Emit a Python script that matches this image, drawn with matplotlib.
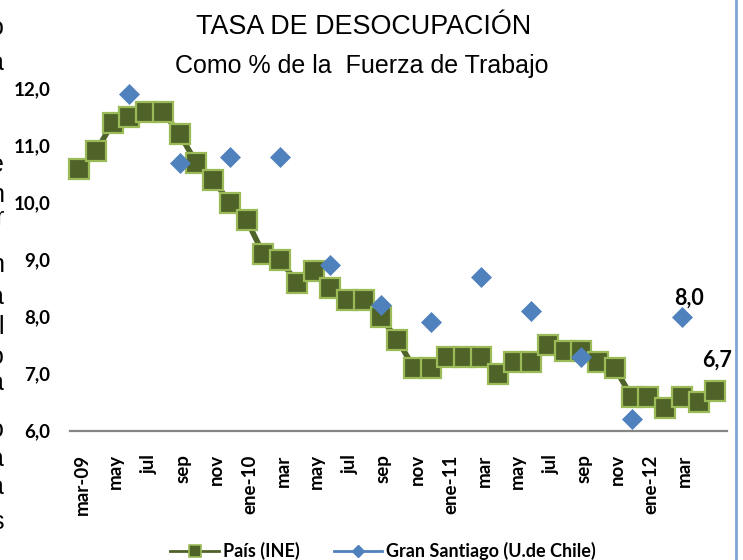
import matplotlib
matplotlib.use('Agg')
import matplotlib.pyplot as plt
import matplotlib.transforms as mtransforms
from matplotlib import font_manager
from matplotlib.lines import Line2D
import numpy as np

# ---------------- data ----------------
tick_labels = ['mar-09', 'may', 'jul', 'sep', 'nov', 'ene-10', 'mar', 'may', 'jul', 'sep',
               'nov', 'ene-11', 'mar', 'may', 'jul', 'sep', 'nov', 'ene-12', 'mar']
pais = [10.6, 10.9, 11.4, 11.5, 11.6, 11.6, 11.2, 10.7, 10.4, 10.0,
        9.7, 9.1, 9.0, 8.6, 8.8, 8.5, 8.3, 8.3, 8.0, 7.6,
        7.1, 7.1, 7.3, 7.3, 7.3, 7.0, 7.2, 7.2, 7.5, 7.4,
        7.4, 7.2, 7.1, 6.6, 6.6, 6.4, 6.6, 6.5, 6.7]
santiago_idx = [3, 6, 9, 12, 15, 18, 21, 24, 27, 30, 33, 36]
santiago = [11.9, 10.7, 10.8, 10.8, 8.9, 8.2, 7.9, 8.7, 8.1, 7.3, 6.2, 8.0]
yticks = [6.0, 7.0, 8.0, 9.0, 10.0, 11.0, 12.0]
title = 'TASA DE DESOCUPACIÓN'
subtitle = 'Como % de la  Fuerza de Trabajo'
series_names = ['País (INE)', 'Gran Santiago (U.de Chile)']
edge_letters = ['o', 'a', 'e', 'n', 'r', 'n', 'a', 'l', 'o', 'a', 'o', 'a', 'a', 's']
edge_letter_y = [28, 63, 165, 195, 218, 265, 297, 327, 357, 383, 430, 459, 487, 522]

# ---------------- style ----------------
OLIVE = '#4F6228'
LIGHT_GREEN = '#9BBB59'
BLUE = '#4F81BD'
BOLD_FONT = ['Lato', 'DejaVu Sans']

installed = {f.name for f in font_manager.fontManager.ttflist}
if 'Liberation Sans Narrow' in installed:
    title_family, title_size = ['Liberation Sans Narrow', 'Liberation Sans'], 22
else:
    title_family, title_size = ['Liberation Sans', 'DejaVu Sans'], 19.4

W, H = 743, 560
fig = plt.figure(figsize=(W / 100, H / 100), dpi=100)
ax = fig.add_axes([70 / W, (H - 430.7) / H, (727 - 70) / W, (430.7 - 88.7) / H])

x = np.arange(len(pais))
ax.plot(x, pais, color=OLIVE, lw=4, marker='s', ms=14.8, mfc=OLIVE,
        mec=LIGHT_GREEN, mew=1.6, clip_on=False, zorder=3)

sant = np.full(len(pais), np.nan)
sant[santiago_idx] = santiago
ax.plot(x, sant, linestyle='none', marker='D', ms=10, mfc=BLUE, mec=BLUE,
        mew=0.5, clip_on=False, zorder=4)

ax.set_xlim(-0.55, 38.7)
ax.set_ylim(6.0, 12.0)
ax.set_yticks(yticks)
ax.set_yticklabels([f'{v:.1f}'.replace('.', ',') for v in yticks])
ax.set_xticks(x[0:2 * len(tick_labels):2])
ax.set_xticklabels(tick_labels, rotation=90, ha='center', va='top')

for s in ['left', 'right', 'top']:
    ax.spines[s].set_visible(False)
ax.spines['bottom'].set_color('#868686')
ax.spines['bottom'].set_linewidth(1.6)
ax.tick_params(axis='both', length=0)
ax.tick_params(axis='y', pad=14)
ax.tick_params(axis='x', pad=17)
for lab in ax.get_yticklabels() + ax.get_xticklabels():
    lab.set_fontfamily(BOLD_FONT)
    lab.set_fontweight('bold')
    lab.set_fontsize(13.5)
    lab.set_color('black')
offset = mtransforms.ScaledTranslation(3 / 100, 0, fig.dpi_scale_trans)
for lab in ax.get_xticklabels():
    lab.set_transform(lab.get_transform() + offset)

# data labels
ax.annotate('8,0', (santiago_idx[-1], santiago[-1]), xytext=(5, 13),
            textcoords='offset points', ha='center', va='center',
            fontfamily=BOLD_FONT, fontweight='bold', fontsize=15.5, annotation_clip=False)
ax.annotate('6,7', (x[-1], pais[-1]), xytext=(1, 22),
            textcoords='offset points', ha='center', va='center',
            fontfamily=BOLD_FONT, fontweight='bold', fontsize=15.5, annotation_clip=False)

# titles
fig.text(363.5 / W, 1 - 27 / H, title, ha='center', va='center', fontsize=title_size,
         fontfamily=title_family)
fig.text(361.5 / W, 1 - 66 / H, subtitle, ha='center', va='center', fontsize=18,
         fontfamily=['Liberation Sans', 'DejaVu Sans'])

# legend
handles = [
    Line2D([], [], color=OLIVE, lw=2, marker='s', ms=8, mfc=OLIVE, mec=LIGHT_GREEN, mew=1.2),
    Line2D([], [], color=BLUE, lw=2, marker='D', ms=6.5, mfc=BLUE, mec=BLUE),
]
fig.legend(handles, series_names, loc='center', bbox_to_anchor=(383 / W, 9 / H),
           ncol=2, frameon=False, handlelength=2.7, handletextpad=0.2,
           columnspacing=1.9, borderaxespad=0,
           prop={'family': BOLD_FONT, 'weight': 'bold', 'size': 13})

# clipped letters at the left edge
for ch, yy in zip(edge_letters, edge_letter_y):
    fig.text(4 / W, 1 - yy / H, ch, ha='right', va='center', fontsize=18,
             fontfamily=['Liberation Sans', 'DejaVu Sans'])

# right border line
fig.add_artist(Line2D([736 / W, 736 / W], [0, 1], color='#7FA4D6', lw=2,
                      transform=fig.transFigure))

fig.savefig('out.png', dpi=100)
